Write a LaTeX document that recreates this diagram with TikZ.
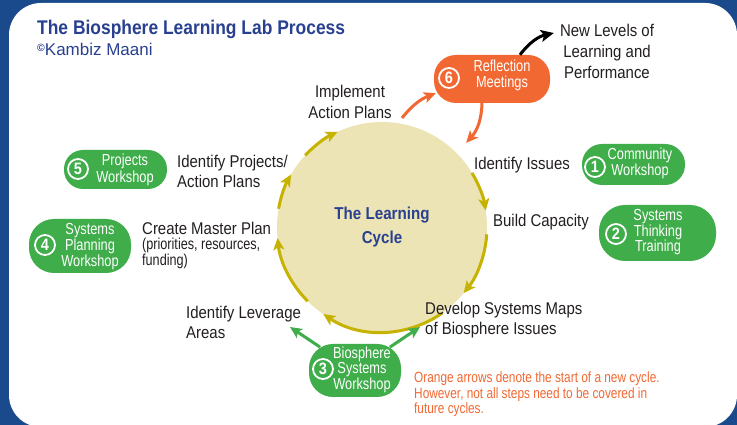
\documentclass[tikz,border=0pt]{standalone}
\usepackage{fontspec}
\setmainfont{Liberation Sans}[FakeStretch=0.88]
\newfontfamily\plainsans{Liberation Sans}
\newfontfamily\narrowsans{Liberation Sans}[FakeStretch=0.8]
\usepackage{tikz}
\usetikzlibrary{arrows.meta}

\definecolor{frameblue}{RGB}{26,74,140}
\definecolor{titleblue}{RGB}{41,64,145}
\definecolor{cyclefill}{RGB}{236,228,180}
\definecolor{cycleolive}{RGB}{198,178,0}
\definecolor{wsgreen}{RGB}{62,173,74}
\definecolor{neworange}{RGB}{242,104,50}
\definecolor{labelgray}{RGB}{35,31,32}

\begin{document}
\begin{tikzpicture}[x=1pt,y=1pt]
\tikzstyle{steplabel} = [inner sep=0pt, align=center, text=labelgray, font=\fontsize{17}{21}\selectfont]
\tikzstyle{wsbox} = [fill=wsgreen, inner sep=0pt]
\tikzstyle{reflbox} = [fill=neworange, inner sep=0pt]
\tikzstyle{boxtext} = [inner sep=0pt, align=center, text=white, font=\narrowsans\fontsize{16}{16.3}\selectfont]
\tikzstyle{stepnum} = [circle, draw=white, line width=1.8pt, minimum size=20pt, inner sep=0pt, text=white, font=\fontsize{16.5}{16}\selectfont\bfseries]
\tikzstyle{cycarrow} = [draw=cycleolive, line width=3pt, -{Stealth[length=12pt,width=11pt,inset=3pt]}]
\tikzstyle{wsarrow} = [draw=wsgreen, line width=3pt, -{Stealth[length=12pt,width=11pt,inset=3pt]}]
\tikzstyle{newarrow} = [draw=neworange, line width=3pt, -{Stealth[length=12pt,width=11pt,inset=3pt]}]

\useasboundingbox (0,0) rectangle (737,425);
\fill[frameblue] (0,0) rectangle (737,425);
\fill[white, rounded corners=32pt] (9,-2) rectangle (737,422);

% title
\node[inner sep=0pt, anchor=base west, text=titleblue, font=\fontsize{19.8}{22}\selectfont\bfseries] (title) at (37,390) {The Biosphere Learning Lab Process};
\node[inner sep=0pt, anchor=base west, text=titleblue, font=\plainsans\fontsize{17}{20}\selectfont] (author) at (37,369) {\raisebox{0.45ex}{\fontsize{10.5}{10}\selectfont\bfseries\textcopyright}Kambiz Maani};

% the cycle
\node[circle, fill=cyclefill, minimum size=210pt, inner sep=0pt, align=center, text=titleblue, font=\fontsize{17.2}{24}\selectfont\bfseries] (cyc) at (382,198) {The Learning\\Cycle};

\draw[cycarrow] ([shift={(31:105)}]cyc.center) arc[start angle=31, end angle=9, radius=105];
\draw[cycarrow] ([shift={(-4:105)}]cyc.center) arc[start angle=-4, end angle=-39, radius=105];
\draw[cycarrow] ([shift={(-55:105)}]cyc.center) arc[start angle=-55, end angle=-124, radius=105];
\draw[cycarrow] ([shift={(-135:105)}]cyc.center) arc[start angle=-135, end angle=-174, radius=105];
\draw[cycarrow] ([shift={(170:105)}]cyc.center) arc[start angle=170, end angle=150, radius=105];
\draw[cycarrow] ([shift={(137:105)}]cyc.center) arc[start angle=137, end angle=115, radius=105];

% steps
\node[steplabel] (impl) at (350,323) {Implement\\Action Plans};
\node[steplabel] (idiss) at (522,260) {Identify Issues};
\node[steplabel] (build) at (541,203) {Build Capacity};
\node[steplabel, anchor=west, align=left, font=\fontsize{17}{20}\selectfont] (develop) at (425,105) {Develop Systems Maps\\of Biosphere Issues};
\node[steplabel, anchor=west, align=left, font=\fontsize{17}{20}\selectfont] (lever) at (186,103) {Identify Leverage\\Areas};
\node[steplabel, anchor=west, align=left] (master) at (142,197) {Create Master Plan};
\node[steplabel, anchor=north west, align=left, font=\narrowsans\fontsize{15.8}{15.5}\selectfont] (mastersub) at (142,187) {(priorities, resources,\\funding)};
\node[steplabel, anchor=west, align=left, font=\fontsize{17}{19.5}\selectfont] (projects) at (177,253.5) {Identify Projects/\\Action Plans};
\node[steplabel] (newlev) at (607,374) {New Levels of\\Learning and\\Performance};

% workshops
\node[wsbox, minimum width=103pt, minimum height=41pt, rounded corners=20pt] (ws1) at (633.5,260.5) {};
\node[boxtext] (ws1t) at (640,261.5) {Community\\Workshop};
\node[stepnum] (n1) at (595,258) {1};

\node[wsbox, minimum width=117pt, minimum height=56pt, rounded corners=26pt] (ws2) at (657.5,192) {};
\node[boxtext, font=\narrowsans\fontsize{16}{15.5}\selectfont] (ws2t) at (658,192.5) {Systems\\Thinking\\Training};
\node[stepnum] (n2) at (616,191) {2};

\node[wsbox, minimum width=92pt, minimum height=53pt, rounded corners=24pt] (ws3) at (355,54.5) {};
\node[boxtext, font=\narrowsans\fontsize{16}{15.5}\selectfont] (ws3t) at (362,55.5) {Biosphere\\Systems\\Workshop};
\node[stepnum] (n3) at (323,56) {3};

\node[wsbox, minimum width=102pt, minimum height=54pt, rounded corners=25pt] (ws4) at (80,179) {};
\node[boxtext] (ws4t) at (90,178.5) {Systems\\Planning\\Workshop};
\node[stepnum] (n4) at (45,180) {4};

\node[wsbox, minimum width=103pt, minimum height=39pt, rounded corners=19pt] (ws5) at (115.5,255.5) {};
\node[boxtext] (ws5t) at (125,255) {Projects\\Workshop};
\node[stepnum] (n5) at (78,256) {5};

\node[reflbox, minimum width=116pt, minimum height=48pt, rounded corners=22pt] (refl) at (492,346) {};
\node[boxtext] (reflt) at (502,349.5) {Reflection\\Meetings};
\node[stepnum] (n6) at (449,347) {6};

% connectors
\coordinate (levtip) at (290,98);
\coordinate (devtip) at (420,98);
\draw[wsarrow, shorten <=-6pt] (ws3) -- (levtip);
\draw[wsarrow, shorten <=-6pt] (ws3) -- (devtip);

\coordinate (o1) at (402,307);
\draw[newarrow] (o1) to[bend left=15] ([shift={(2,10)}]refl.south west);
\draw[newarrow] ([xshift=-10pt]refl.south) to[bend left=20] ([shift={(45:119)}]cyc.center);
\draw[draw=black, line width=3pt, -{Stealth[length=13pt,width=12pt,inset=3pt]}] ([xshift=28pt]refl.north) to[bend left=20] ([shift={(-6,18)}]newlev.west);

% note
\node[inner sep=0pt, anchor=north west, align=left, text=neworange, font=\narrowsans\fontsize{14.8}{15.5}\selectfont] (note) at (414,53) {Orange arrows denote the start of a new cycle.\\However, not all steps need to be covered in\\future cycles.};

\end{tikzpicture}
\end{document}
